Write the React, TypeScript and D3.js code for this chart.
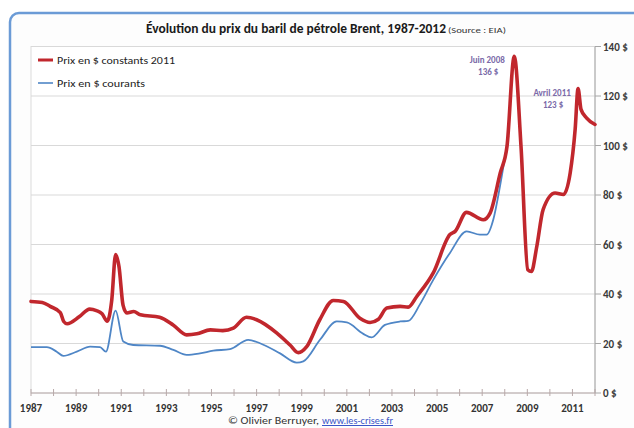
import React from "react";
import * as d3 from "d3";

// Brent price, constant 2011 dollars (decimal year, $)
const constantYears = [
  1987.0, 1987.5, 1987.85, 1988.3, 1988.45, 1988.6, 1989.15, 1989.6, 1989.9, 1990.15,
  1990.38, 1990.58, 1990.75, 1990.9, 1991.08, 1991.25, 1991.55, 1991.85, 1992.7, 1993.3,
  1993.9, 1994.35, 1994.95, 1995.5, 1995.97, 1996.55, 1997.0, 1997.9, 1998.48, 1998.85,
  1999.22, 1999.8, 2000.4, 2000.85, 2001.58, 2002.03, 2002.4, 2002.77, 2003.36, 2003.72,
  2004.1, 2004.83, 2005.57, 2005.8, 2006.3, 2007.05, 2007.35, 2007.8, 2008.1, 2008.42,
  2008.72, 2009.02, 2009.18, 2009.42, 2009.7, 2010.23, 2010.6, 2010.9, 2011.12, 2011.25,
  2011.38, 2011.62, 2012.0,
];
const constantPrices = [
  37.0, 36.6, 35.0, 32.5, 28.9, 28.0, 30.9, 33.9, 33.3, 32.0,
  29.0, 37.6, 55.9, 51.1, 35.5, 32.3, 32.9, 31.6, 30.6, 27.5,
  23.5, 23.9, 25.5, 25.2, 26.2, 30.6, 29.6, 24.2, 19.4, 16.3,
  18.7, 29.6, 37.4, 37.0, 30.2, 28.5, 29.8, 34.3, 35.0, 34.7,
  39.0, 48.5, 64.0, 65.3, 73.0, 70.0, 72.7, 88.9, 99.7, 136,
  99.7, 49.8, 49.1, 59.2, 74.1, 80.8, 80.2, 88.9, 106.5, 123,
  114.6, 111.2, 108.5,
];

// Brent price, current dollars (decimal year, $)
const currentYears = [
  1987.0, 1987.7, 1988.14, 1988.43, 1989.03, 1989.62, 1990.06, 1990.32, 1990.75, 1991.09,
  1991.53, 1992.72, 1993.31, 1993.9, 1994.49, 1995.08, 1995.82, 1996.63, 1997.15, 1998.04,
  1998.78, 1999.07, 1999.81, 2000.55, 2001.0, 2001.73, 2002.1, 2002.69, 2003.36, 2003.72,
  2004.24, 2004.83, 2005.57, 2006.31, 2006.9, 2007.2, 2007.49, 2007.79, 2008.16,
];
const currentPrices = [
  18.5, 18.5, 16.7, 15.0, 16.7, 18.7, 18.5, 16.7, 33.3, 20.8,
  19.4, 19.1, 17.4, 15.4, 16.0, 17.1, 17.7, 21.5, 20.1, 16.0,
  12.3, 12.8, 21.5, 28.9, 28.5, 23.9, 22.5, 27.5, 28.9, 29.1,
  35.8, 45.7, 56.6, 65.3, 64.0, 64.0, 70.0, 83.6, 103.8,
];

const yearLabels = [1987, 1989, 1991, 1993, 1995, 1997, 1999, 2001, 2003, 2005, 2007, 2009, 2011];
const priceTicks = [0, 20, 40, 60, 80, 100, 120, 140];

// Annotated peaks: [label, year, value]
const peakLabels = ["Juin 2008", "Avril 2011"];
const peakYears = [2008.42, 2011.25];
const peakValues = [136, 123];

const seriesNames = ["Prix en $ constants 2011", "Prix en $ courants"];

const FONT = "Carlito, Lato, 'Open Sans', sans-serif";
const RED = "#c1272d";
const BLUE = "#4f86c6";
const PURPLE = "#7a6aa8";

export default function App() {
  const width = 634;
  const height = 428;
  const left = 31;
  const right = 595;
  const top = 46.5;
  const bottom = 393;

  const x = d3.scaleLinear().domain([1987, 2012]).range([left, right]);
  const y = d3.scaleLinear().domain([0, 140]).range([bottom, top]);

  const line = d3
    .line<[number, number]>()
    .x((d) => x(d[0]))
    .y((d) => y(d[1]))
    .curve(d3.curveMonotoneX);

  const constantPts = constantYears.map((t, i) => [t, constantPrices[i]] as [number, number]);
  const currentPts = currentYears.map((t, i) => [t, currentPrices[i]] as [number, number]);

  const minorYears = d3.range(1987, 2013);

  return (
    <svg
      width={width}
      height={height}
      viewBox={`0 0 ${width} ${height}`}
      style={{ position: "absolute", left: 0, top: 0, display: "block", background: "#ffffff" }}
      fontFamily={FONT}
    >
      {/* chart frame */}
      <rect x={10} y={13} width={700} height={500} rx={9} fill="#fdfdfd" stroke="#6b9bd6" strokeWidth={2.5} />

      {/* title */}
      <text x={146} y={33} fontSize={13} fontWeight="bold" fill="#1a1a1a" textLength={300} lengthAdjust="spacingAndGlyphs">
        Évolution du prix du baril de pétrole Brent, 1987-2012
      </text>
      <text x={448} y={33} fontSize={9} fill="#333" textLength={58} lengthAdjust="spacingAndGlyphs">
        (Source : EIA)
      </text>

      {/* plot area */}
      <rect x={left} y={top} width={right - left} height={bottom - top} fill="#ffffff" stroke="#dcdcdc" strokeWidth={1} />
      {priceTicks.filter((v) => v > 0).map((v) => (
        <line key={`g${v}`} x1={left} x2={right} y1={y(v)} y2={y(v)} stroke="#d9d9d9" strokeWidth={1} />
      ))}

      {/* right axis */}
      <line x1={right} x2={right} y1={top} y2={bottom} stroke="#a6a6a6" strokeWidth={1} />
      {priceTicks.map((v) => (
        <g key={`t${v}`}>
          <line x1={right} x2={right + 6} y1={y(v)} y2={y(v)} stroke="#a6a6a6" strokeWidth={1} />
          <text x={right + 8} y={y(v) + 4} fontSize={11} fontWeight="bold" fill="#3a3a3a">
            {`${v} $`}
          </text>
        </g>
      ))}

      {/* bottom axis */}
      <line x1={left} x2={right} y1={bottom} y2={bottom} stroke="#b8a9a9" strokeWidth={1.2} />
      {minorYears.map((t) => (
        <line key={`m${t}`} x1={x(t)} x2={x(t)} y1={bottom - 4} y2={bottom + 3} stroke="#b8a9a9" strokeWidth={1} />
      ))}
      {yearLabels.map((t) => (
        <text key={`y${t}`} x={x(t)} y={412} fontSize={11} fontWeight="bold" fill="#333" textAnchor="middle">
          {t}
        </text>
      ))}

      {/* series */}
      <path d={line(currentPts) ?? ""} fill="none" stroke={BLUE} strokeWidth={1.8} strokeLinejoin="round" />
      <path d={line(constantPts) ?? ""} fill="none" stroke={RED} strokeWidth={3.6} strokeLinejoin="round" strokeLinecap="round" />

      {/* peak annotations */}
      {peakLabels.map((label, i) => {
        const cx = x(peakYears[i]) - (i === 0 ? 27 : 26);
        const py = y(peakValues[i]);
        return (
          <g key={label} fill={PURPLE} fontSize={9} fontWeight="bold" textAnchor="middle">
            <text x={cx} y={py + 7}>{label}</text>
            <text x={cx + 1} y={py + 19}>{`${peakValues[i]} $`}</text>
          </g>
        );
      })}

      {/* legend */}
      <line x1={38} x2={53} y1={60} y2={60} stroke={RED} strokeWidth={3} />
      <text x={57} y={64} fontSize={11} fill="#222" textLength={118} lengthAdjust="spacingAndGlyphs">
        {seriesNames[0]}
      </text>
      <line x1={38} x2={53} y1={83} y2={83} stroke={BLUE} strokeWidth={1.6} />
      <text x={57} y={87} fontSize={11} fill="#222" textLength={88} lengthAdjust="spacingAndGlyphs">
        {seriesNames[1]}
      </text>

      {/* credit */}
      <text x={228} y={424} fontSize={10} fill="#333" textLength={91} lengthAdjust="spacingAndGlyphs">
        © Olivier Berruyer,
      </text>
      <text x={322} y={424} fontSize={10} fill="#3a55c8" textDecoration="underline" textLength={71} lengthAdjust="spacingAndGlyphs">
        www.les-crises.fr
      </text>
    </svg>
  );
}
